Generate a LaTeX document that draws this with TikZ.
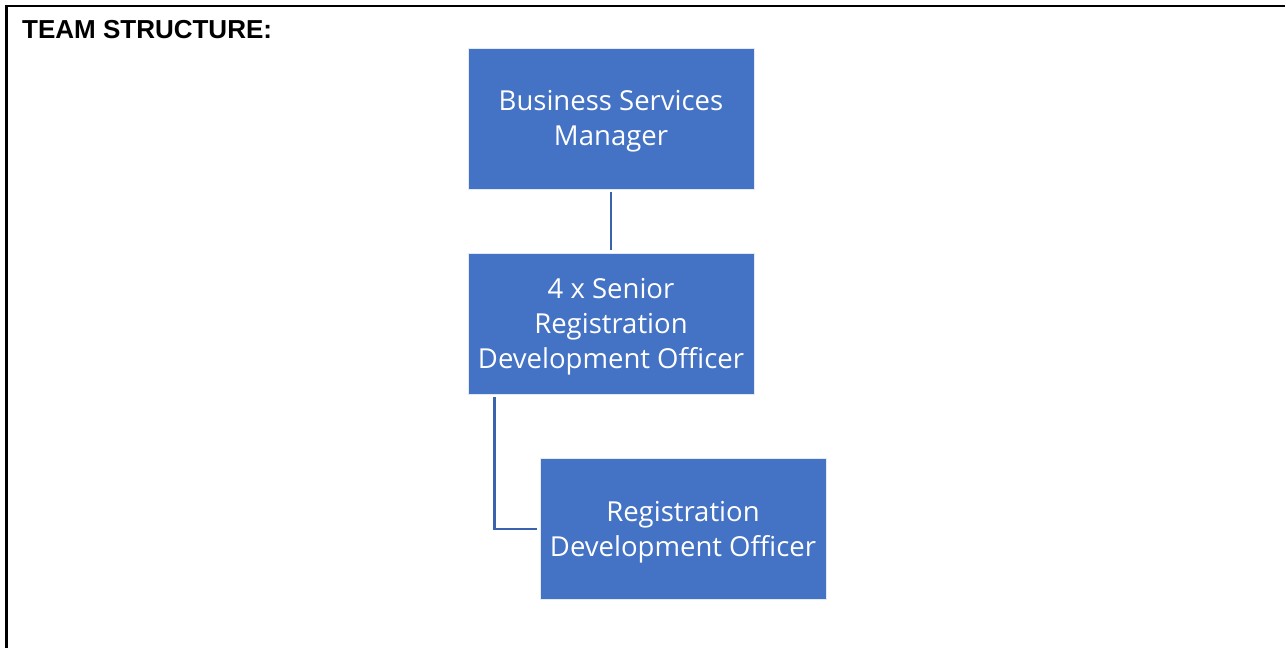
\documentclass[tikz,border=0pt]{standalone}
\usepackage{fontspec}
\setmainfont{Open Sans}
\newfontfamily\titlefont{Liberation Sans}
\definecolor{boxblue}{HTML}{4472C4}
\definecolor{lineblue}{HTML}{3B62AC}
\newcommand\topstrut{\rule{0pt}{27pt}}
\newcommand\botstrut{\rule[-8pt]{0pt}{0pt}}
\begin{document}
\begin{tikzpicture}[x=1pt,y=-1pt,
  orgbox/.style={draw=white!85!boxblue,line width=0.8pt,fill=boxblue,text=white,minimum width=286pt,minimum height=141pt,inner sep=0pt,align=center,font=\fontsize{27.5}{35}\selectfont},
  link/.style={draw=lineblue,line width=2.6pt}]
\useasboundingbox (0,0) rectangle (1286,648);
\draw[line width=2.2pt] (1285,6) -- (6.5,6) -- (6.5,648);
\node[anchor=base west,font=\titlefont\bfseries\fontsize{26}{30}\selectfont,inner sep=0pt] (title) at (22,38.5) {TEAM STRUCTURE:};
\node[orgbox] (bsm) at (611,118.5) {\topstrut Business Services\\Manager\botstrut};
\node[orgbox] (srdo) at (611,323.5) {\topstrut 4 x Senior\\Registration\\Development Officer\botstrut};
\node[orgbox] (rdo) at (683,529) {\topstrut Registration\\Development Officer\botstrut};
\coordinate (c1) at ([yshift=-3pt]bsm.south);
\coordinate (c2) at ([yshift=3pt]srdo.north);
\draw[link] (c1) -- (c2);
\coordinate (c3) at ([xshift=27pt,yshift=-3pt]srdo.south west);
\coordinate (c4) at ([xshift=-3pt]rdo.west);
\draw[link] (c3) |- (c4);
\end{tikzpicture}
\end{document}
